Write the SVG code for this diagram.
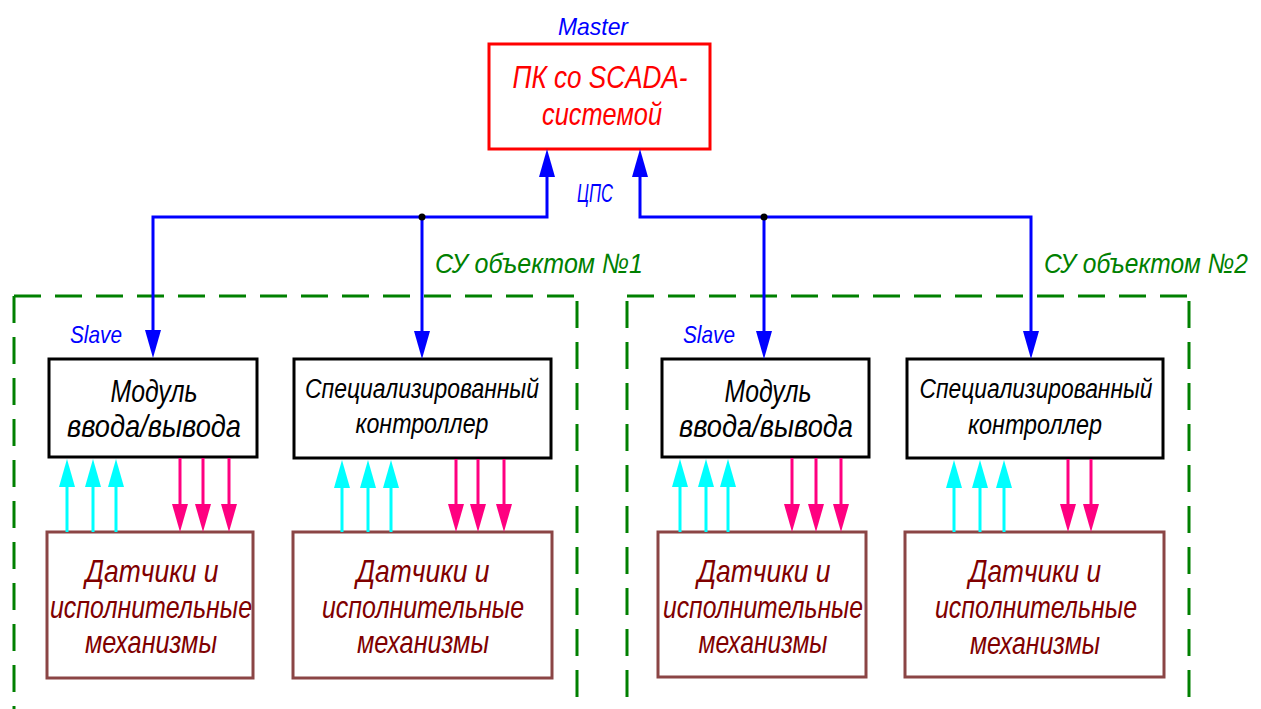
<svg xmlns="http://www.w3.org/2000/svg" width="1261" height="709" viewBox="0 0 1261 709">
  <style>
    text { font-family: "Liberation Sans", "DejaVu Sans", sans-serif; font-style: italic; text-anchor: middle; }
    .master { fill: #fff; stroke: #ff0000; stroke-width: 3; }
    .unit { fill: #fff; stroke: #000; stroke-width: 3; }
    .field { fill: #fff; stroke: #8b4545; stroke-width: 3; }
    .zone { fill: none; stroke: #008000; stroke-width: 3; stroke-dasharray: 27 14; }
    .bus { fill: none; stroke: #0000ff; stroke-width: 3; }
    .sig-in { stroke: #00ffff; stroke-width: 3; marker-end: url(#headCyan); }
    .sig-out { stroke: #ff0080; stroke-width: 3; marker-end: url(#headPink); }
    .t-red { fill: #ff0000; font-size: 32px; }
    .t-blue { fill: #0000ff; font-size: 24px; }
    .t-bus { fill: #0000ff; font-size: 25px; }
    .t-green { fill: #008000; font-size: 28px; }
    .t-black { fill: #000; font-size: 32px; }
    .t-black-s { fill: #000; font-size: 27px; }
    .t-brown { fill: #800000; font-size: 32px; }
  </style>
  <defs>
    <marker id="headBlue" markerUnits="userSpaceOnUse" markerWidth="28" markerHeight="16" refX="0" refY="8" orient="auto-start-reverse" viewBox="0 0 28 16">
      <path d="M0,0 L28,8 L0,16 Z" fill="#0000ff"/>
    </marker>
    <marker id="headCyan" markerUnits="userSpaceOnUse" markerWidth="28" markerHeight="16" refX="0" refY="8" orient="auto" viewBox="0 0 28 16">
      <path d="M0,0 L28,8 L0,16 Z" fill="#00ffff"/>
    </marker>
    <marker id="headPink" markerUnits="userSpaceOnUse" markerWidth="28" markerHeight="16" refX="0" refY="8" orient="auto" viewBox="0 0 28 16">
      <path d="M0,0 L28,8 L0,16 Z" fill="#ff0080"/>
    </marker>
  </defs>

  <rect width="1261" height="709" fill="#fff"/>

  <!-- dashed control-system zones -->
  <g id="zone1">
    <path class="zone" d="M14,296 H577"/>
    <path class="zone" d="M14,296 V709"/>
    <path class="zone" d="M577,301 V709"/>
    <text class="t-green" x="539" y="273" textLength="208" lengthAdjust="spacingAndGlyphs">СУ объектом №1</text>
  </g>
  <g id="zone2">
    <path class="zone" d="M627,296 H1189"/>
    <path class="zone" d="M627,301 V709"/>
    <path class="zone" d="M1189,301 V709"/>
    <text class="t-green" x="1146" y="273" textLength="204" lengthAdjust="spacingAndGlyphs">СУ объектом №2</text>
  </g>

  <!-- master PC -->
  <g id="master">
    <text class="t-blue" x="593" y="35" textLength="70" lengthAdjust="spacingAndGlyphs">Master</text>
    <rect class="master" x="489" y="44" width="221" height="105"/>
    <text class="t-red" x="600" y="88" textLength="175" lengthAdjust="spacingAndGlyphs">ПК со SCADA-</text>
    <text class="t-red" x="602" y="125" textLength="120" lengthAdjust="spacingAndGlyphs">системой</text>
  </g>

  <!-- object 1 -->
  <g id="io1">
    <text class="t-blue" x="96" y="343" textLength="52" lengthAdjust="spacingAndGlyphs">Slave</text>
    <rect class="unit" x="49" y="359" width="208" height="98"/>
    <text class="t-black" x="154" y="402" textLength="87" lengthAdjust="spacingAndGlyphs">Модуль</text>
    <text class="t-black" x="154" y="437" textLength="174" lengthAdjust="spacingAndGlyphs">ввода/вывода</text>
  </g>
  <g id="ctrl1">
    <rect class="unit" x="294" y="359" width="257" height="99"/>
    <text class="t-black-s" x="422" y="398" textLength="234" lengthAdjust="spacingAndGlyphs">Специализированный</text>
    <text class="t-black-s" x="422" y="433" textLength="133" lengthAdjust="spacingAndGlyphs">контроллер</text>
  </g>
  <g id="field1">
    <rect class="field" x="47" y="532" width="206" height="146"/>
    <text class="t-brown" x="152" y="582" textLength="133" lengthAdjust="spacingAndGlyphs">Датчики и</text>
    <text class="t-brown" x="151" y="618" textLength="202" lengthAdjust="spacingAndGlyphs">исполнительные</text>
    <text class="t-brown" x="151" y="653" textLength="132" lengthAdjust="spacingAndGlyphs">механизмы</text>
  </g>
  <g id="field2">
    <rect class="field" x="293" y="532" width="259" height="146"/>
    <text class="t-brown" x="423" y="582" textLength="133" lengthAdjust="spacingAndGlyphs">Датчики и</text>
    <text class="t-brown" x="423" y="618" textLength="202" lengthAdjust="spacingAndGlyphs">исполнительные</text>
    <text class="t-brown" x="423" y="653" textLength="132" lengthAdjust="spacingAndGlyphs">механизмы</text>
  </g>

  <!-- object 2 -->
  <g id="io2">
    <text class="t-blue" x="709" y="343" textLength="52" lengthAdjust="spacingAndGlyphs">Slave</text>
    <rect class="unit" x="662" y="359" width="207" height="98"/>
    <text class="t-black" x="768" y="402" textLength="87" lengthAdjust="spacingAndGlyphs">Модуль</text>
    <text class="t-black" x="766" y="437" textLength="174" lengthAdjust="spacingAndGlyphs">ввода/вывода</text>
  </g>
  <g id="ctrl2">
    <rect class="unit" x="907" y="359" width="256" height="99"/>
    <text class="t-black-s" x="1036" y="398" textLength="233" lengthAdjust="spacingAndGlyphs">Специализированный</text>
    <text class="t-black-s" x="1035" y="434" textLength="134" lengthAdjust="spacingAndGlyphs">контроллер</text>
  </g>
  <g id="field3">
    <rect class="field" x="658" y="532" width="208" height="145"/>
    <text class="t-brown" x="764" y="582" textLength="133" lengthAdjust="spacingAndGlyphs">Датчики и</text>
    <text class="t-brown" x="763" y="618" textLength="200" lengthAdjust="spacingAndGlyphs">исполнительные</text>
    <text class="t-brown" x="763" y="653" textLength="129" lengthAdjust="spacingAndGlyphs">механизмы</text>
  </g>
  <g id="field4">
    <rect class="field" x="905" y="532" width="259" height="145"/>
    <text class="t-brown" x="1035" y="582" textLength="132" lengthAdjust="spacingAndGlyphs">Датчики и</text>
    <text class="t-brown" x="1036" y="618" textLength="202" lengthAdjust="spacingAndGlyphs">исполнительные</text>
    <text class="t-brown" x="1035" y="654" textLength="130" lengthAdjust="spacingAndGlyphs">механизмы</text>
  </g>

  <!-- connectors -->
  <g id="connectors">
    <!-- network bus (ЦПС) -->
    <path class="bus" d="M153,330 V217 H547 V177" marker-start="url(#headBlue)" marker-end="url(#headBlue)"/>
    <path class="bus" d="M422,217 V331" marker-end="url(#headBlue)"/>
    <path class="bus" d="M640,177 V217 H1031 V331" marker-start="url(#headBlue)" marker-end="url(#headBlue)"/>
    <path class="bus" d="M764,217 V331" marker-end="url(#headBlue)"/>
    <circle cx="422" cy="217" r="3.5" fill="#000"/>
    <circle cx="764" cy="217" r="3.5" fill="#000"/>
    <text class="t-bus" x="595" y="202" textLength="36" lengthAdjust="spacingAndGlyphs">ЦПС</text>

    <!-- field signals: inputs (up) and outputs (down) -->
    <line class="sig-in" x1="67" y1="532" x2="67" y2="487"/>
    <line class="sig-in" x1="93" y1="532" x2="93" y2="487"/>
    <line class="sig-in" x1="116" y1="532" x2="116" y2="487"/>
    <line class="sig-out" x1="180" y1="458" x2="180" y2="504"/>
    <line class="sig-out" x1="203" y1="458" x2="203" y2="504"/>
    <line class="sig-out" x1="229" y1="458" x2="229" y2="504"/>

    <line class="sig-in" x1="342" y1="532" x2="342" y2="488"/>
    <line class="sig-in" x1="368" y1="532" x2="368" y2="488"/>
    <line class="sig-in" x1="391" y1="532" x2="391" y2="488"/>
    <line class="sig-out" x1="456" y1="459" x2="456" y2="504"/>
    <line class="sig-out" x1="478" y1="459" x2="478" y2="504"/>
    <line class="sig-out" x1="504" y1="459" x2="504" y2="504"/>

    <line class="sig-in" x1="680" y1="532" x2="680" y2="487"/>
    <line class="sig-in" x1="706" y1="532" x2="706" y2="487"/>
    <line class="sig-in" x1="728" y1="532" x2="728" y2="487"/>
    <line class="sig-out" x1="792" y1="458" x2="792" y2="504"/>
    <line class="sig-out" x1="816" y1="458" x2="816" y2="504"/>
    <line class="sig-out" x1="841" y1="458" x2="841" y2="504"/>

    <line class="sig-in" x1="954" y1="532" x2="954" y2="488"/>
    <line class="sig-in" x1="980" y1="532" x2="980" y2="488"/>
    <line class="sig-in" x1="1004" y1="532" x2="1004" y2="488"/>
    <line class="sig-out" x1="1068" y1="459" x2="1068" y2="504"/>
    <line class="sig-out" x1="1091" y1="459" x2="1091" y2="504"/>
  </g>
</svg>
